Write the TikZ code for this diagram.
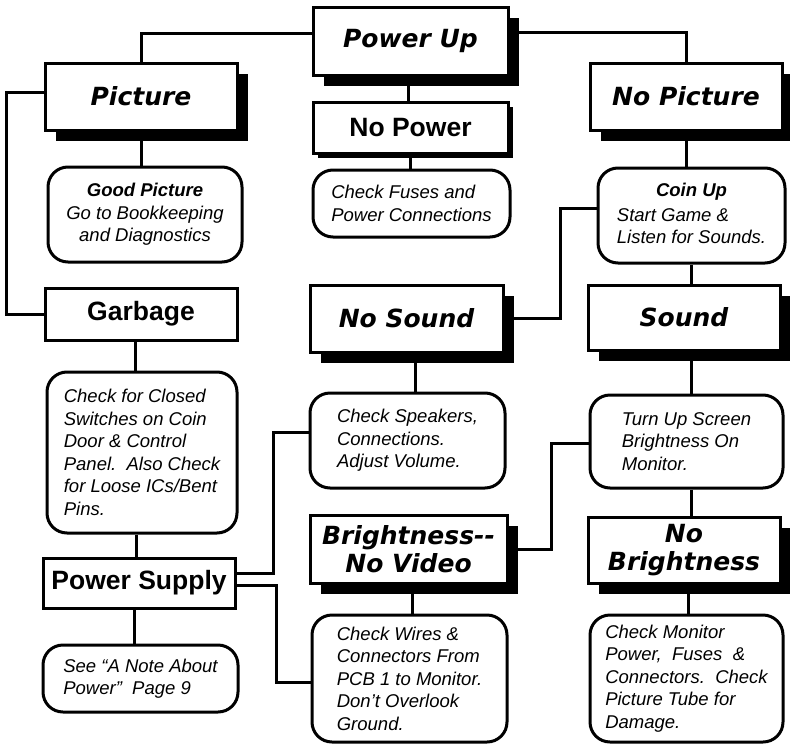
\documentclass[tikz,border=0pt]{standalone}
\usepackage{fontspec}
\setmainfont{Liberation Sans}
\newfontfamily\hfont{DejaVu Sans}
\usetikzlibrary{shadows}
\tikzset{
  base/.style={line width=3pt, inner sep=0pt, fill=white, draw},
  hdr/.style={base, font=\hfont\bfseries\itshape\fontsize{25}{28}\selectfont, align=center,
    drop shadow={shadow xshift=11pt, shadow yshift=-11pt, opacity=1, fill=black}},
  smallshadow/.style={base, font=\bfseries\fontsize{26.5}{30}\selectfont,
    drop shadow={shadow xshift=5pt, shadow yshift=-5pt, opacity=1, fill=black}},
  plain/.style={base, font=\bfseries\fontsize{26.5}{30}\selectfont},
  note/.style={base, rounded corners=20pt, font=\itshape\fontsize{18.5}{22.5}\selectfont, align=left},
  conn/.style={line width=3pt}
}
\begin{document}
\begin{tikzpicture}[x=1pt,y=-1pt]
\useasboundingbox (0,0) rectangle (790,747);
% header boxes
\node[hdr, minimum width=195pt, minimum height=68pt] (pu) at (410.5,41) {Power Up};
\node[hdr, minimum width=192pt, minimum height=67pt] (pic) at (141,96.5) {Picture};
\node[hdr, minimum width=192pt, minimum height=67pt] (nopic) at (686,96.5) {No Picture};
\node[smallshadow, minimum width=195pt, minimum height=51pt] (nopow) at (410.5,127.5) {No Power};
\node[plain, minimum width=192pt, minimum height=52pt] (garb) at (141,314) {Garbage};
\node[hdr, minimum width=193pt, minimum height=67pt] (nosound) at (406.5,318.5) {No Sound};
\node[hdr, minimum width=192pt, minimum height=65pt] (sound) at (684,317.5) {Sound};
\node[hdr, minimum width=197pt, minimum height=68pt] (bright) at (408.5,549) {Brightness--\\No Video};
\node[hdr, minimum width=192pt, minimum height=66pt] (nobright) at (684,550) {No\\Brightness};
\node[plain, minimum width=192pt, minimum height=50pt] (psup) at (139,583) {Power Supply};
% rounded note boxes
\node[note, align=center, minimum width=194pt, minimum height=95pt] (good) at (145,214.5)
  {\textbf{Good Picture}\\Go to Bookkeeping\\and Diagnostics};
\node[note, minimum width=197pt, minimum height=67pt] (fuses) at (411.5,203.5)
  {Check Fuses and\\Power Connections};
\node[note, minimum width=187pt, minimum height=95pt] (coin) at (691.5,215.5)
  {\begin{tabular}{@{}l@{}}\multicolumn{1}{@{}c@{}}{\textbf{Coin Up}}\\[2pt] Start Game \&\\ Listen for Sounds.\end{tabular}};
\node[note, minimum width=190pt, minimum height=161pt] (closed) at (142,452.5)
  {Check for Closed\\Switches on Coin\\Door \& Control\\Panel.\ \ Also Check\\for Loose ICs/Bent\\Pins.};
\node[note, minimum width=195pt, minimum height=95pt] (speak) at (407.5,440.5)
  {Check Speakers,\\Connections.\\Adjust Volume.};
\node[note, minimum width=193pt, minimum height=93pt] (turn) at (686.5,441.5)
  {Turn Up Screen\\Brightness On\\Monitor.};
\node[note, minimum width=195pt, minimum height=67pt] (snote) at (140.5,678.5)
  {See ``A Note About\\Power'' \ Page 9};
\node[note, minimum width=195pt, minimum height=127pt] (wires) at (409.5,678.5)
  {Check Wires \&\\Connectors From\\PCB 1 to Monitor.\\Don't Overlook\\Ground.};
\node[note, minimum width=193pt, minimum height=127pt] (monitor) at (686.5,678.5)
  {Check Monitor\\Power,\ \ Fuses\ \ \&\\Connectors.\ \ Check\\Picture Tube for\\Damage.};
% connectors
\draw[conn] ([yshift=8pt]pu.west) -| (pic.north);
\draw[conn] ([yshift=9pt]pu.east) -| (nopic.north);
\draw[conn] ([xshift=-2pt]pu.south) -- ([xshift=-2pt]nopow.north);
\draw[conn] (nopow.south) -- (nopow.south |- fuses.north);
\draw[conn] (pic.south) -- (pic.south |- good.north);
\draw[conn] ([yshift=4.5pt]pic.west) -- ++(-37,0) |- (garb.west);
\draw[conn] (nopic.south) -- (nopic.south |- coin.north);
\draw[conn] ([yshift=7.5pt]coin.west) -- ++(-36,0) |- (nosound.east);
\draw[conn] (coin.south) -- (coin.south |- sound.north);
\draw[conn] (sound.south -| coin.south) -- (turn.north -| coin.south);
\draw[conn] ([yshift=-1.5pt]turn.west) -- ++(-37,0) |- (bright.east);
\draw[conn] (turn.south -| coin.south) -- (nobright.north -| coin.south);
\draw[conn] ([xshift=4pt]nobright.south) -- ([xshift=4pt]nobright.south |- monitor.north);
\draw[conn] ([xshift=8.5pt]nosound.south) -- ([xshift=8.5pt]nosound.south |- speak.north);
\draw[conn] ([yshift=8.5pt]speak.west) -- ++(-35,0) |- ([yshift=10pt]psup.east);
\draw[conn] ([yshift=-2pt]psup.east) -- ++(40,0) |- ([yshift=-3.5pt]wires.west);
\draw[conn] ([xshift=-6pt]garb.south) -- ([xshift=-6pt]garb.south |- closed.north);
\draw[conn] ([xshift=-6pt]closed.south) -- ([xshift=-6pt]closed.south |- psup.north);
\draw[conn] ([xshift=-5pt]psup.south) -- ([xshift=-5pt]psup.south |- snote.north);
\draw[conn] ([xshift=3.5pt]bright.south) -- ([xshift=3.5pt]bright.south |- wires.north);
\end{tikzpicture}
\end{document}
